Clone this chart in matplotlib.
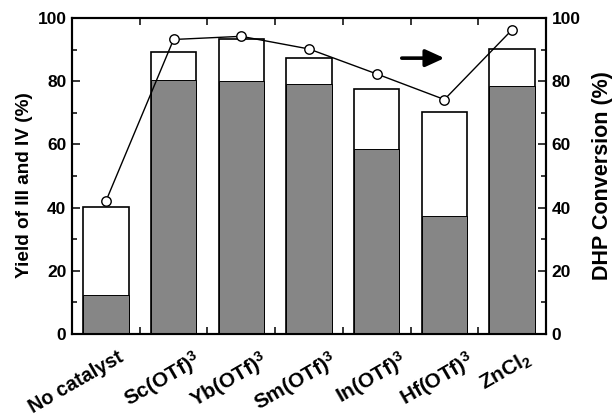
import matplotlib
matplotlib.use("Agg")
import matplotlib.pyplot as plt
import matplotlib.transforms as mtransforms
import numpy as np

plt.rcParams['font.family'] = ['Liberation Sans', 'DejaVu Sans']
plt.rcParams['font.weight'] = 'bold'
plt.rcParams['mathtext.fontset'] = 'custom'
plt.rcParams['mathtext.rm'] = 'Liberation Sans:bold'
plt.rcParams['mathtext.it'] = 'Liberation Sans:bold'
plt.rcParams['mathtext.bf'] = 'Liberation Sans:bold'

catalysts = ["No catalyst", r"$\mathrm{Sc(OTf)}^{3}$", r"$\mathrm{Yb(OTf)}^{3}$",
             r"$\mathrm{Sm(OTf)}^{3}$", r"$\mathrm{In(OTf)}^{3}$",
             r"$\mathrm{Hf(OTf)}^{3}$", r"$\mathrm{ZnCl}_{2}$"]
yield_total = [40.3, 89.3, 93.4, 87.4, 77.4, 70.3, 90.3]   # III + IV
yield_dark = [12.3, 80.3, 80.2, 79.2, 58.4, 37.4, 78.4]    # shaded part of each bar
conversion = [42.0, 93.2, 94.2, 90.2, 82.3, 74.2, 96.3]    # DHP conversion

# horizontal shift of each category label relative to its bar
label_shift = [0.17, 0.28, 0.28, 0.30, 0.32, 0.32, 0.18]

fig = plt.figure(figsize=(6.14, 4.18), dpi=100)
ax = fig.add_axes([72/614, 1-334/418, 474/614, 316/418])
x = np.arange(len(catalysts))
w = 0.67

ax.bar(x, yield_total, width=w, color='white', edgecolor='black', linewidth=1.2, zorder=2)
ax.bar(x, yield_dark, width=w, color='#868686', edgecolor='black', linewidth=0.7, zorder=3)

ax.set_xlim(-0.5, len(catalysts) - 0.5)
ax.set_ylim(0, 100)
ax.set_yticks(np.arange(0, 101, 20))
ax.set_yticks(np.arange(10, 100, 20), minor=True)
ax.set_xticks(np.arange(0.5, len(catalysts) - 1, 1))
ax.set_xticklabels([])
ax.tick_params(axis='x', which='major', direction='in', top=True, bottom=True, length=5, width=1.1)
ax.tick_params(axis='y', which='major', direction='in', length=6, width=1.1, labelsize=12.5, pad=4)
ax.tick_params(axis='y', which='minor', direction='in', length=3.5, width=1.1)
for lab in ax.get_yticklabels():
    lab.set_fontweight('bold')
for s in ax.spines.values():
    s.set_linewidth(1.5)

trans = mtransforms.blended_transform_factory(ax.transData, ax.transAxes)
for i, name in enumerate(catalysts):
    fs = 14.2 if i == 0 else 15.0
    ax.text(i + label_shift[i], -0.042, name, rotation=30, ha='right', va='top',
            rotation_mode='anchor', fontsize=fs, fontweight='bold',
            transform=trans, clip_on=False)

ax.set_ylabel("Yield of III and IV (%)", fontsize=13.7, fontweight='bold')
ax.yaxis.set_label_coords(-0.082, 0.47)

ax2 = ax.twinx()
ax2.set_ylim(0, 100)
ax2.plot(x, conversion, '-o', color='black', lw=1.0, ms=6.8, mfc='white', mec='black', mew=1.0, zorder=5)
ax2.set_yticks(np.arange(0, 101, 20))
ax2.set_yticks(np.arange(10, 100, 20), minor=True)
ax2.tick_params(axis='y', which='major', direction='in', length=6, width=1.1, labelsize=12.5, pad=4)
ax2.tick_params(axis='y', which='minor', direction='in', length=3.5, width=1.1)
for lab in ax2.get_yticklabels():
    lab.set_fontweight('bold')
ax2.set_ylabel("DHP Conversion (%)", fontsize=15.5, fontweight='bold', labelpad=8)
for s in ax2.spines.values():
    s.set_linewidth(1.5)

ax2.annotate("", xy=(5.0, 87.3), xytext=(4.37, 87.3),
             arrowprops=dict(arrowstyle='-|>,head_length=0.57,head_width=0.26',
                             color='black', lw=2.6, mutation_scale=20,
                             shrinkA=0, shrinkB=0))

fig.savefig("out.png", dpi=100)
